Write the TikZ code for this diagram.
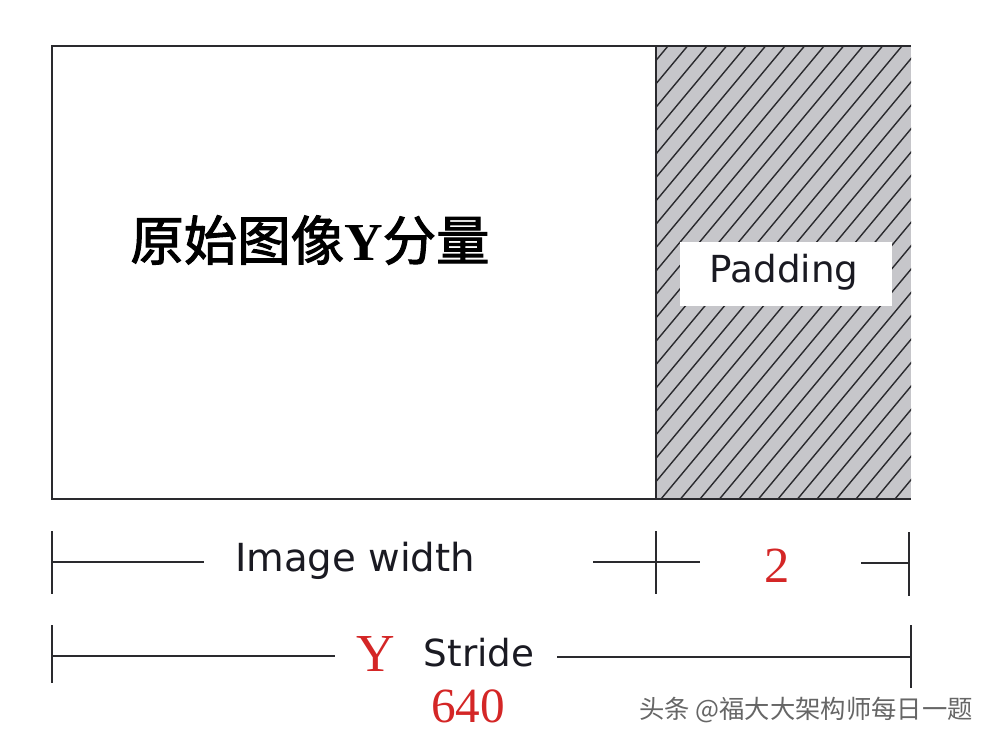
\documentclass[tikz,border=0pt]{standalone}
\usepackage{fontspec}
\setmainfont{Liberation Serif}
\setsansfont{DejaVu Sans}
\newfontfamily\cjk{Noto Sans CJK SC}
\newfontfamily\cjkfb[FakeBold=2]{Noto Sans CJK SC}
\definecolor{edge}{HTML}{2A2A2E}
\definecolor{txt}{HTML}{1A1A22}
\definecolor{hatchgray}{HTML}{C6C6CA}
\definecolor{redtxt}{HTML}{D42626}
\tikzset{
  frame/.style={draw=edge, line width=2pt},
  hatchline/.style={draw=edge, line width=1pt},
  dimline/.style={draw=edge, line width=1.5pt},
  sanslabel/.style={font=\sffamily, text=txt, inner sep=0pt},
  redlabel/.style={font=\rmfamily, text=redtxt, inner sep=0pt},
}
\begin{document}
\begin{tikzpicture}[x=0.025cm,y=-0.025cm]
\useasboundingbox (0,0) rectangle (992,744);
\fill[white] (0,0) rectangle (992,744);
% corners
\coordinate (TL) at (52,46);
\coordinate (BL) at (52,499);
\coordinate (TM) at (656,46);
\coordinate (BM) at (656,499);
\coordinate (TR) at (911,46);
\coordinate (BR) at (911,499);
% hatched padding area
\fill[hatchgray] (TM) rectangle (BR);
\begin{scope}
  \clip (TM) rectangle (BR);
  \foreach \i in {-30,...,16} {
    \draw[hatchline] (656+\i*19.5,505) -- ++(400,-480);
  }
\end{scope}
% frame
\draw[frame] (TR) -- (TL) -- (BL) -- (BR);
\draw[frame] (TM) -- (BM);
% padding label
\node[fill=white, minimum width=212*0.025cm, minimum height=64*0.025cm, inner sep=0pt] (padbox) at (786,274) {};
\node[sanslabel, font=\sffamily\fontsize{26.5}{26.5}\selectfont] (pad) at (784,272) {Padding};
% main label
\node[inner sep=0pt, text=black] (main) at (310,240) {\fontsize{38}{38}\selectfont\cjkfb 原始图像{\rmfamily\bfseries Y}分量};
% dimension row 1
\coordinate (t1a) at (52,531); \coordinate (t1b) at (52,594);
\coordinate (l1a) at (52,562);
\coordinate (l1b) at (204,562);
\node[sanslabel, font=\sffamily\fontsize{27.5}{27.5}\selectfont] (imgw) at (355,561) {Image width};
\coordinate (m1a) at (593,562); \coordinate (m1b) at (700,562);
\coordinate (tm1a) at (656,531); \coordinate (tm1b) at (656,594);
\node[redlabel, font=\rmfamily\fontsize{36}{36}\selectfont] (two) at (777,566) {2};
\coordinate (r1a) at (861,563); \coordinate (r1b) at (909,563);
\coordinate (tr1a) at (909,532); \coordinate (tr1b) at (909,596);
\draw[dimline] (t1a) -- (t1b);
\draw[dimline] (l1a) -- (l1b);
\draw[dimline] (m1a) -- (m1b);
\draw[dimline] (tm1a) -- (tm1b);
\draw[dimline] (r1a) -- (r1b);
\draw[dimline] (tr1a) -- (tr1b);
% dimension row 2
\coordinate (t2a) at (52,625); \coordinate (t2b) at (52,683);
\coordinate (l2a) at (52,656); \coordinate (l2b) at (335,656);
\node[redlabel, font=\rmfamily\fontsize{38}{38}\selectfont] (ylab) at (376,654) {Y};
\node[sanslabel, font=\sffamily\fontsize{26.5}{26.5}\selectfont] (stride) at (479,653) {Stride};
\coordinate (r2a) at (557,657); \coordinate (r2b) at (911,657);
\coordinate (tr2a) at (911,625); \coordinate (tr2b) at (911,688);
\node[redlabel, font=\rmfamily\fontsize{35}{35}\selectfont] (num) at (468,706) {640};
\draw[dimline] (t2a) -- (t2b);
\draw[dimline] (l2a) -- (l2b);
\draw[dimline] (r2a) -- (r2b);
\draw[dimline] (tr2a) -- (tr2b);
% watermark
\node[inner sep=0pt, anchor=west, text=black!60] (wm) at (639,710) {\fontsize{18}{18}\selectfont\cjk 头条 @福大大架构师每日一题};
\end{tikzpicture}
\end{document}
